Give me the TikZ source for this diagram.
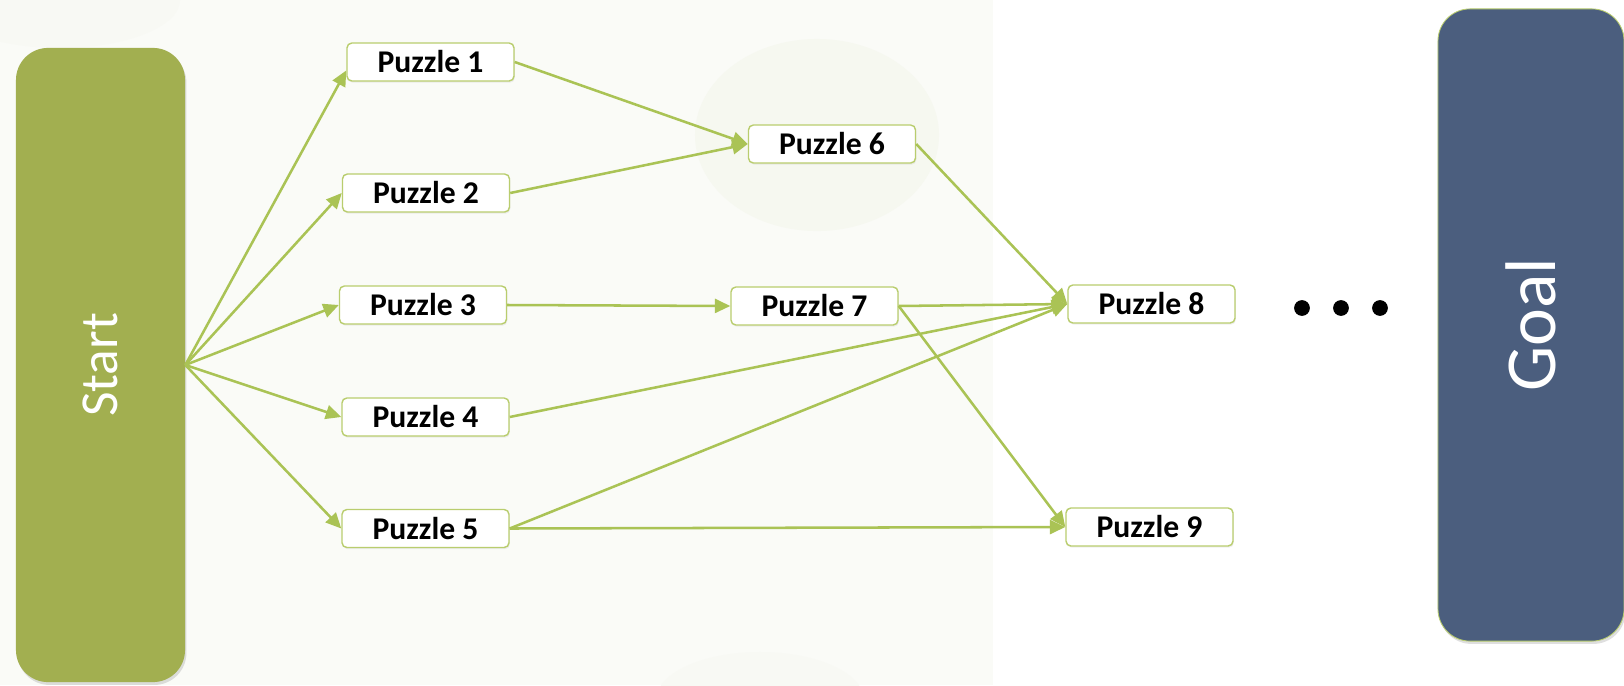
\documentclass[tikz,border=0pt]{standalone}
\usepackage{fontspec}
\setmainfont{Carlito}
\usetikzlibrary{arrows.meta,shadows}
\definecolor{startgreen}{RGB}{162,175,80}
\definecolor{goalblue}{RGB}{75,94,126}
\definecolor{arrowgreen}{RGB}{170,195,85}
\definecolor{boxgreen}{RGB}{185,205,110}
\definecolor{tint}{RGB}{250,251,247}
\definecolor{blob}{RGB}{246,248,240}
\tikzset{
  puzzle/.style={draw=boxgreen, line width=1pt, fill=white, rounded corners=3.5pt,
    minimum width=4.175cm, minimum height=0.95cm, inner sep=0pt,
    font=\bfseries\fontsize{22.5}{24}\selectfont,
    drop shadow={opacity=0.12, shadow xshift=0.6pt, shadow yshift=-1.2pt}},
  bigbox/.style={rotate=90, rounded corners=0.8cm, inner sep=0pt, text=white,
    drop shadow={opacity=0.25, shadow xshift=1pt, shadow yshift=-2pt}},
  link/.style={draw=arrowgreen, line width=1.8pt, -{Triangle[length=11pt,width=10pt]}},
  dotnode/.style={circle, fill=black, inner sep=0pt, minimum size=11.2pt}
}
\begin{document}
\begin{tikzpicture}[x=0.025cm,y=-0.025cm]
\useasboundingbox (0,0) rectangle (1624,685);
% background
\fill[white] (0,0) rectangle (1624,685);
\fill[tint] (0,0) rectangle (993,685);
\fill[blob] (817,135) ellipse [x radius=3.05cm, y radius=2.4cm];
\fill[blob!50!tint] (760,700) ellipse [x radius=2.6cm, y radius=1.2cm];
\fill[blob!50!tint] (60,0) ellipse [x radius=3cm, y radius=1.2cm];

% big boxes
\node[bigbox, fill=startgreen, minimum width=15.85cm, minimum height=4.225cm,
      font=\fontsize{38}{40}\selectfont] (start) at (100.5,365) {Start};
\node[bigbox, fill=goalblue, draw=boxgreen, line width=0.6pt, minimum width=15.8cm, minimum height=4.65cm,
      font=\fontsize{51}{53}\selectfont] (goal) at (1531,325) {Goal};

% puzzles
\node[puzzle] (p1) at (430.5,62) {Puzzle 1};
\node[puzzle] (p2) at (426,193) {Puzzle 2};
\node[puzzle] (p3) at (423,305) {Puzzle 3};
\node[puzzle] (p4) at (425.5,417) {Puzzle 4};
\node[puzzle] (p5) at (425.5,528.5) {Puzzle 5};
\node[puzzle] (p6) at (832,144) {Puzzle 6};
\node[puzzle] (p7) at (814.5,306) {Puzzle 7};
\node[puzzle] (p8) at (1151.5,304) {Puzzle 8};
\node[puzzle] (p9) at (1149.5,527) {Puzzle 9};

% dots
\node[dotnode] (d1) at (1302,308) {};
\node[dotnode] (d2) at (1341,308) {};
\node[dotnode] (d3) at (1380,308) {};

% connectors
\draw[link] (start.south) -- ([yshift=-6pt]p1.west);
\draw[link] (start.south) -- (p2.west);
\draw[link] (start.south) -- (p3.west);
\draw[link] (start.south) -- (p4.west);
\draw[link] (start.south) -- (p5.west);
\draw[link] (p1.east) -- (p6.west);
\draw[link] (p2.east) -- (p6.west);
\draw[link] (p6.east) -- (p8.west);
\draw[link] (p3.east) -- (p7.west);
\draw[link] (p7.east) -- (p8.west);
\draw[link] (p7.east) -- (p9.west);
\draw[link] (p4.east) -- (p8.west);
\draw[link] (p5.east) -- (p8.west);
\draw[link] (p5.east) -- (p9.west);
\end{tikzpicture}
\end{document}
